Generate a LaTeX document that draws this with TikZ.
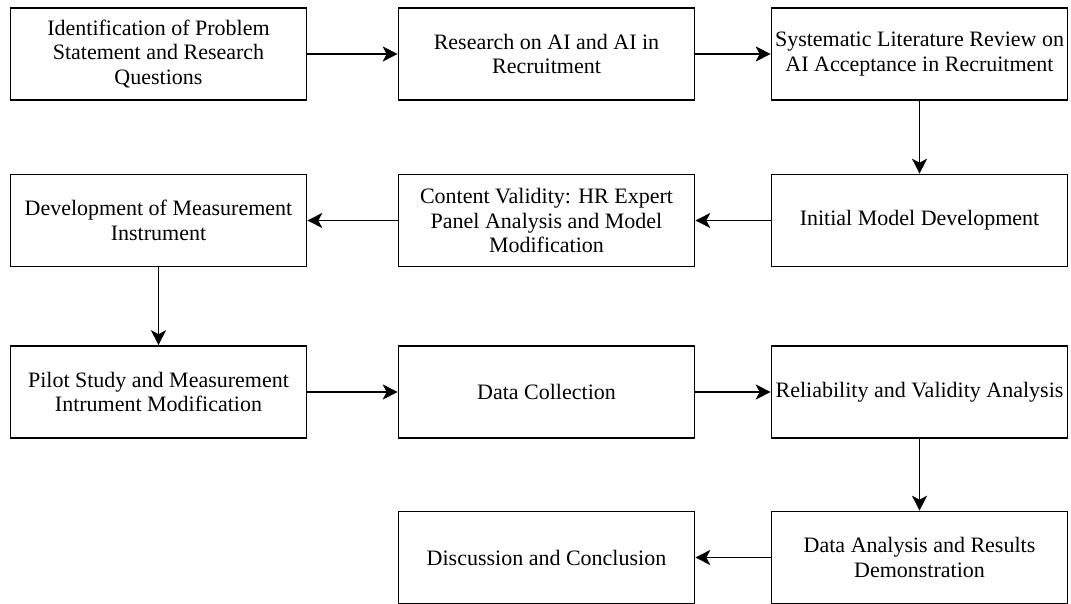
\documentclass[tikz,border=0pt]{standalone}
\usepackage{fontspec}
\setmainfont{Liberation Serif}
\usetikzlibrary{arrows.meta}

\tikzset{
  stage/.style={draw, line width=1.6pt, minimum width=296pt, minimum height=92pt,
    inner sep=0pt, align=center, font=\fontsize{22}{24.5}\selectfont},
  flow/.style={-{Stealth[length=15pt,width=15pt,inset=4pt]}, line width=1.5pt}
}

\begin{document}
\begin{tikzpicture}[x=1pt,y=-1pt]
\useasboundingbox (0,0) rectangle (1071,604);

% row 1
\node[stage] (ident) at (158.5,54) {Identification of Problem\\Statement and Research\\Questions};
\node[stage] (research) at (546.5,54) {Research on AI and AI in\\Recruitment};
\node[stage] (review) at (919.5,54) {Systematic Literature Review on\\AI Acceptance in Recruitment};

% row 2
\node[stage] (instrument) at (158.5,220.5) {Development of Measurement\\Instrument};
\node[stage] (validity) at (546.5,220.5) {Content Validity: HR Expert\\Panel Analysis and Model\\Modification};
\node[stage] (model) at (919.5,220.5) {Initial Model Development};

% row 3
\node[stage] (pilot) at (158.5,392) {Pilot Study and Measurement\\Intrument Modification};
\node[stage] (collect) at (546.5,392) {Data Collection};
\node[stage] (reliab) at (919.5,392) {Reliability and Validity Analysis};

% row 4
\node[stage] (discuss) at (546.5,557.5) {Discussion and Conclusion};
\node[stage] (analysis) at (919.5,557.5) {Data Analysis and Results\\Demonstration};

\draw[flow] (ident) -- (research);
\draw[flow] (research) -- (review);
\draw[flow] (review) -- (model);
\draw[flow] (model) -- (validity);
\draw[flow] (validity) -- (instrument);
\draw[flow] (instrument) -- (pilot);
\draw[flow] (pilot) -- (collect);
\draw[flow] (collect) -- (reliab);
\draw[flow] (reliab) -- (analysis);
\draw[flow] (analysis) -- (discuss);

\end{tikzpicture}
\end{document}
